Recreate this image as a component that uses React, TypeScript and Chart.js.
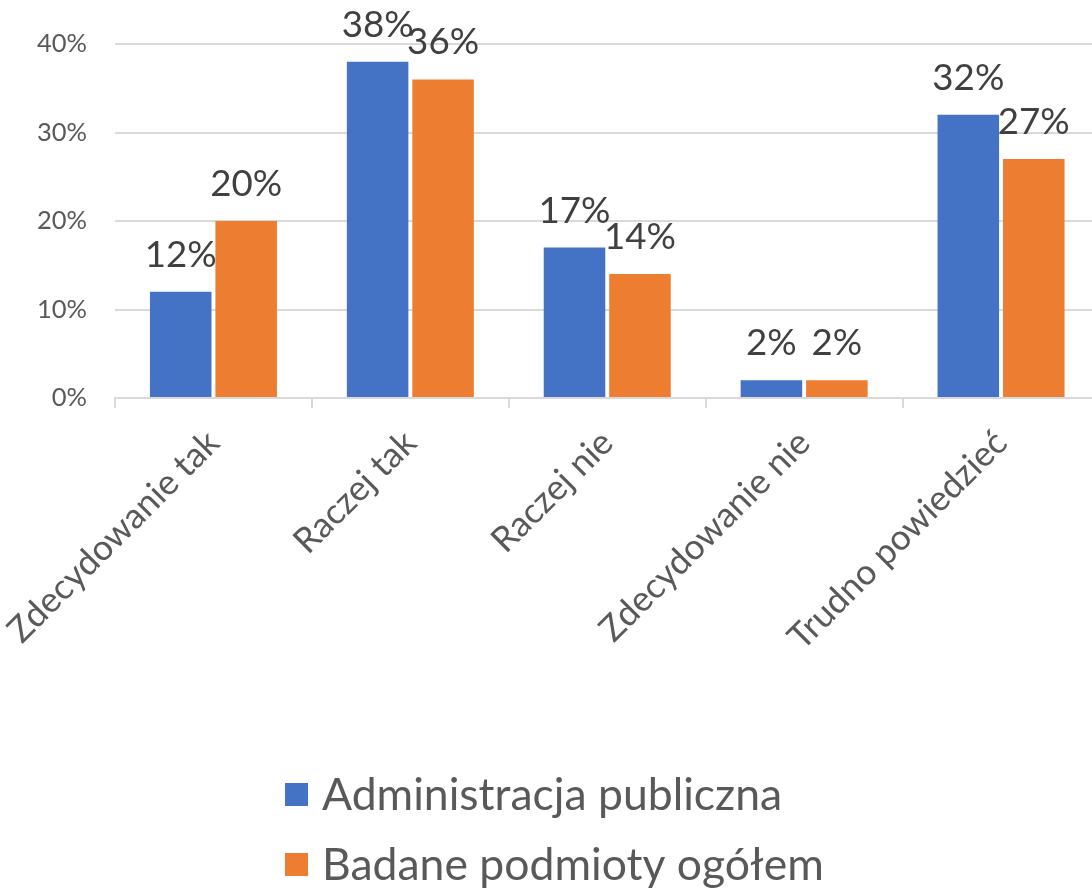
import React, { useEffect, useRef } from "react";
import { Chart, registerables } from "chart.js";

Chart.register(...registerables);

const categories = [
  "Zdecydowanie tak",
  "Raczej tak",
  "Raczej nie",
  "Zdecydowanie nie",
  "Trudno powiedzieć",
];
const seriesNames = ["Administracja publiczna", "Badane podmioty ogółem"];
const adminValues = [12, 38, 17, 2, 32];
const ogolemValues = [20, 36, 14, 2, 27];
const yTicks = [0, 10, 20, 30, 40];

const BLUE = "#4472C4";
const ORANGE = "#ED7D31";
const FAMILY = "Lato, 'Open Sans', sans-serif";

function fitSize(text: string, target: number): number {
  const c = document.createElement("canvas").getContext("2d")!;
  c.font = `100px ${FAMILY}`;
  const w = c.measureText(text).width;
  return Math.round((100 * target) / w * 10) / 10;
}

export default function App() {
  const ref = useRef<HTMLCanvasElement | null>(null);

  useEffect(() => {
    document.body.style.margin = "0";
    document.body.style.overflow = "hidden";
    const tickSize = fitSize("40%", 50);
    const labelSize = fitSize("20%", 72);
    const catSize = fitSize("Zdecydowanie tak", 282);
    const legendSize = fitSize("Administracja publiczna", 460);

    const dataLabels = {
      id: "dataLabels",
      afterDatasetsDraw(chart: any) {
        const ctx = chart.ctx;
        ctx.save();
        ctx.font = `${labelSize}px ${FAMILY}`;
        ctx.fillStyle = "#404040";
        ctx.textAlign = "center";
        ctx.textBaseline = "alphabetic";
        chart.data.datasets.forEach((ds: any, di: number) => {
          const meta = chart.getDatasetMeta(di);
          meta.data.forEach((bar: any, i: number) => {
            ctx.fillText(`${ds.data[i]}%`, bar.x, bar.y - 25);
          });
        });
        ctx.restore();
      },
    };

    const customLegend = {
      id: "customLegend",
      afterDraw(chart: any) {
        const ctx = chart.ctx;
        ctx.save();
        ctx.font = `${legendSize}px ${FAMILY}`;
        ctx.textAlign = "left";
        ctx.textBaseline = "middle";
        chart.data.datasets.forEach((ds: any, di: number) => {
          const cy = 794 + di * 70;
          ctx.fillStyle = ds.backgroundColor;
          ctx.fillRect(285, cy - 11, 23, 23);
          ctx.fillStyle = "#595959";
          ctx.fillText(ds.label, 322, cy + 2);
        });
        ctx.restore();
      },
    };

    const chart = new Chart(ref.current!, {
      type: "bar",
      data: {
        labels: categories,
        datasets: [
          {
            label: seriesNames[0],
            data: adminValues,
            backgroundColor: BLUE,
            categoryPercentage: 0.665,
            barPercentage: 0.94,
          },
          {
            label: seriesNames[1],
            data: ogolemValues,
            backgroundColor: ORANGE,
            categoryPercentage: 0.665,
            barPercentage: 0.94,
          },
        ],
      },
      options: {
        animation: false,
        responsive: false,
        maintainAspectRatio: false,
        layout: { padding: { top: 44, left: 0, right: 10.5, bottom: 0 } },
        plugins: {
          legend: { display: false },
          tooltip: { enabled: false },
        },
        scales: {
          x: {
            afterFit(s: any) {
              s.height = 492;
              s.paddingLeft = 0;
              s.paddingRight = 0;
            },
            grid: {
              offset: true,
              drawOnChartArea: false,
              drawTicks: true,
              tickLength: 10,
              color: "#d9d9d9",
              lineWidth: 2,
            },
            border: { display: true, color: "#d9d9d9", width: 2 },
            ticks: {
              autoSkip: false,
              minRotation: 45,
              maxRotation: 45,
              padding: 14,
              color: "#595959",
              font: { family: FAMILY, size: catSize },
            },
          },
          y: {
            min: 0,
            max: 40,
            afterFit(s: any) {
              s.width = 115;
              s.paddingTop = 0;
              s.paddingBottom = 0;
            },
            afterBuildTicks(s: any) {
              s.ticks = yTicks.map((v) => ({ value: v }));
            },
            grid: { drawTicks: false, color: "#d9d9d9", lineWidth: 2 },
            border: { display: false },
            ticks: {
              padding: 28,
              color: "#595959",
              font: { family: FAMILY, size: tickSize },
              callback: (v: any) => `${v}%`,
            },
          },
        },
      },
      plugins: [dataLabels, customLegend],
    });
    return () => chart.destroy();
  }, []);

  return (
    <div style={{ width: 1110, height: 890, position: "relative" }}>
      <canvas ref={ref} width={1110} height={890} style={{ display: "block" }} />
    </div>
  );
}
